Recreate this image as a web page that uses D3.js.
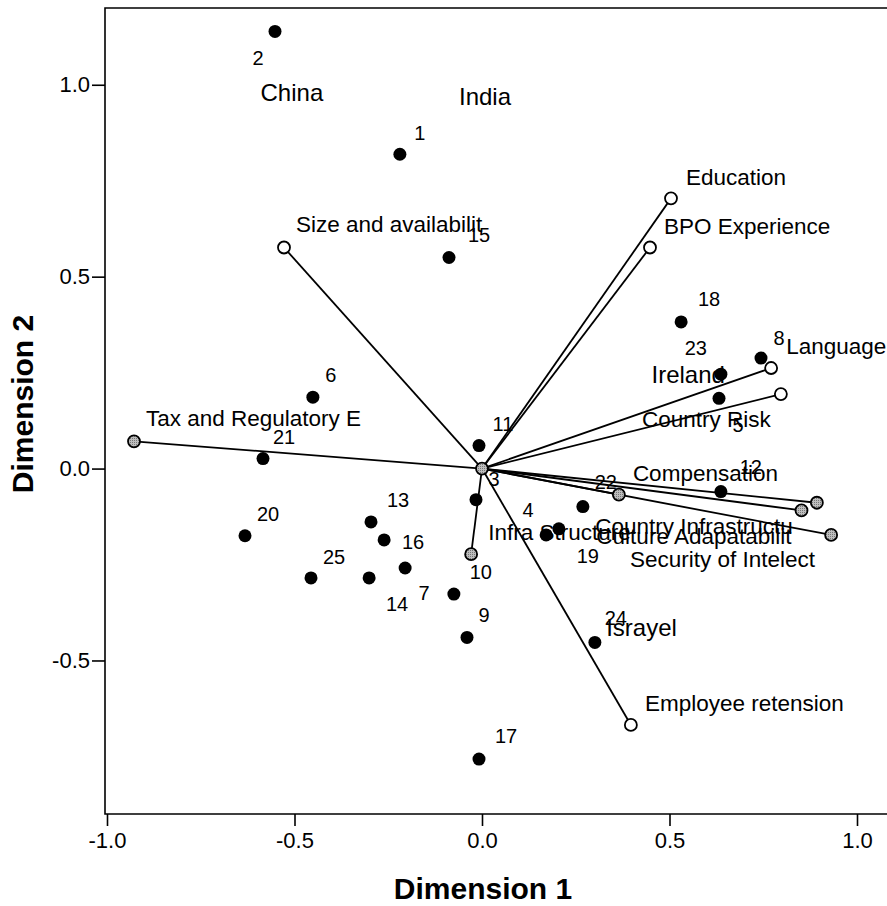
<!DOCTYPE html>
<html>
<head>
<meta charset="utf-8">
<script src="https://cdn.jsdelivr.net/npm/d3@7"></script>
<style>
  html, body { margin: 0; padding: 0; background: #fff; }
  svg { display: block; font-family: "Liberation Sans", Arial, sans-serif; }
</style>
</head>
<body>
<svg id="chart" width="887" height="906"></svg>
<script>
// ---- data: object scores (Dimension 1, Dimension 2) ----
const objectIds = ["1","2","3","4","5","6","7","8","9","10","11","12","13","14","15","16","17","18","19","20","21","22","23","24","25"];
const objectDim1 = [-0.219,-0.552,-0.016,0.171,0.632,-0.451,-0.205,0.744,-0.040,-0.075,-0.008,0.637,-0.296,-0.301,-0.088,-0.261,-0.008,0.531,0.205,-0.632,-0.584,0.269,0.637,0.301,-0.456];
const objectDim2 = [0.819,1.139,-0.081,-0.173,0.183,0.186,-0.259,0.288,-0.440,-0.327,0.060,-0.060,-0.139,-0.285,0.550,-0.186,-0.757,0.382,-0.157,-0.175,0.026,-0.099,0.246,-0.453,-0.285];

// ---- data: component loadings ----
const variableNames = ["Size and availabilit","Education","BPO Experience","Language","Country Risk","Employee retension","Tax and Regulatory E","Infra Structure","Compensation","Country Infrastructu","Culture Adapatabilit","Security of Intelect"];
const loadingDim1 = [-0.528,0.504,0.448,0.771,0.797,0.397,-0.928,-0.029,0.365,0.893,0.852,0.931];
const loadingDim2 = [0.576,0.704,0.576,0.262,0.194,-0.668,0.071,-0.223,-0.068,-0.089,-0.109,-0.173];
const variableGroup = ["open","open","open","open","open","open","grey","grey","grey","grey","grey","grey"];

// ---- annotations (country names) ----
const countryNames = ["China","India","Ireland","Israyel"];
const countryDim1 = [-0.507,0.008,0.452,0.331];
const countryDim2 = [0.979,0.969,0.246,-0.414];

// ---- axis ticks ----
const xTicks = [-1.0,-0.5,0.0,0.5,1.0];
const yTicks = [-0.5,0.0,0.5,1.0];
const xTitle = "Dimension 1";
const yTitle = "Dimension 2";

// ---- layout (label offsets in pixels, separate from data) ----
const objectLabelOffset = [[20,-21],[-17,26],[18,-21],[-18,-25],[19,26],[18,-22],[19,25],[18,-20],[17,-23],[27,-22],[24,-22],[30,-25],[27,-22],[28,26],[30,-23],[29,2],[27,-23],[28,-23],[29,27],[23,-22],[21,-22],[23,-25],[-25,-26],[21,-25],[23,-21]];
// [dx, dy, anchor]
const varLabelOffset = [[12,-24,"start"],[15,-21,"start"],[14,-22,"start"],[15,-22,"start"],[-10,25,"end"],[14,-22,"start"],[12,-23,"start"],[17,-22,"start"],[14,-22,"start"],[-24,23,"end"],[-10,25,"end"],[-16,24,"end"]];
const countryAnchor = ["middle","middle","start","start"];

const fmt = v => d3.format(".1f")(v).replace("\u2212", "-");

const svg = d3.select("#chart");
const x = d3.scaleLinear().domain([-1.0, 1.0]).range([107, 857]);
const y = d3.scaleLinear().domain([-0.9, 1.2]).range([814, 8]);
const plotL = 105, plotR = x(1.12), plotT = y(1.2), plotB = y(-0.9);

// frame
svg.append("path")
  .attr("d", `M${plotR},${plotT}H${plotL}V${plotB}H${plotR}`)
  .attr("fill", "none").attr("stroke", "#000").attr("stroke-width", 1.6);

// x axis
const xAxis = d3.axisBottom(x).tickValues(xTicks).tickFormat(fmt).tickSize(12).tickSizeOuter(0);
const gx = svg.append("g").attr("transform", `translate(0,${plotB})`).call(xAxis);
gx.select(".domain").remove();
gx.selectAll("line").attr("stroke", "#000").attr("stroke-width", 1.6);
gx.selectAll("text").attr("font-size", 22).attr("fill", "#000").attr("dy", "0.95em").attr("y", 13)
  .attr("font-family", "Liberation Sans, Arial, sans-serif");

// y axis
const yAxis = d3.axisLeft(y).tickValues(yTicks).tickFormat(fmt).tickSize(13).tickSizeOuter(0);
const gy = svg.append("g").attr("transform", `translate(${plotL},0)`).call(yAxis);
gy.select(".domain").remove();
gy.selectAll("line").attr("stroke", "#000").attr("stroke-width", 1.6);
gy.selectAll("text").attr("font-size", 22).attr("fill", "#000").attr("x", -15)
  .attr("font-family", "Liberation Sans, Arial, sans-serif");

// axis titles
svg.append("text").attr("x", 483).attr("y", 899).attr("text-anchor", "middle")
  .attr("font-size", 30).attr("font-weight", "bold").text(xTitle);
svg.append("text").attr("transform", "translate(33,404) rotate(-90)").attr("text-anchor", "middle")
  .attr("font-size", 30).attr("font-weight", "bold").text(yTitle);

// loading vectors
const vars = variableNames.map((n, i) => ({name: n, x: loadingDim1[i], y: loadingDim2[i], g: variableGroup[i], off: varLabelOffset[i]}));
svg.append("g").selectAll("line").data(vars).join("line")
  .attr("x1", x(0)).attr("y1", y(0))
  .attr("x2", d => x(d.x)).attr("y2", d => y(d.y))
  .attr("stroke", "#000").attr("stroke-width", 1.8);

// country annotations
const countries = countryNames.map((n, i) => ({name: n, x: countryDim1[i], y: countryDim2[i], a: countryAnchor[i]}));
svg.append("g").selectAll("text").data(countries).join("text")
  .attr("x", d => x(d.x)).attr("y", d => y(d.y)).attr("dy", "0.36em")
  .attr("text-anchor", d => d.a).attr("font-size", 24).text(d => d.name);

// stipple pattern for grey markers
const defs = svg.append("defs");
const pat = defs.append("pattern").attr("id", "stip").attr("width", 2).attr("height", 2).attr("patternUnits", "userSpaceOnUse");
pat.append("rect").attr("width", 2).attr("height", 2).attr("fill", "#bdbdbd");
pat.append("rect").attr("width", 1).attr("height", 1).attr("fill", "#777");

// origin marker
svg.append("circle").attr("cx", x(0)).attr("cy", y(0)).attr("r", 6)
  .attr("fill", "url(#stip)").attr("stroke", "#000").attr("stroke-width", 1.8);

// loading markers
svg.append("g").selectAll("circle").data(vars).join("circle")
  .attr("cx", d => x(d.x)).attr("cy", d => y(d.y)).attr("r", 6)
  .attr("fill", d => d.g === "open" ? "#fff" : "url(#stip)")
  .attr("stroke", "#000").attr("stroke-width", 1.8);

// object points
const objs = objectIds.map((id, i) => ({id, x: objectDim1[i], y: objectDim2[i], off: objectLabelOffset[i]}));
svg.append("g").selectAll("circle").data(objs).join("circle")
  .attr("cx", d => x(d.x)).attr("cy", d => y(d.y)).attr("r", 6.5).attr("fill", "#000");

// object labels
svg.append("g").selectAll("text").data(objs).join("text")
  .attr("x", d => x(d.x) + d.off[0]).attr("y", d => y(d.y) + d.off[1]).attr("dy", "0.36em")
  .attr("text-anchor", "middle").attr("font-size", 20).text(d => d.id);

// variable labels
svg.append("g").selectAll("text").data(vars).join("text")
  .attr("x", d => x(d.x) + d.off[0]).attr("y", d => y(d.y) + d.off[1]).attr("dy", "0.36em")
  .attr("text-anchor", d => d.off[2]).attr("font-size", 22.5).text(d => d.name);
</script>
</body>
</html>
